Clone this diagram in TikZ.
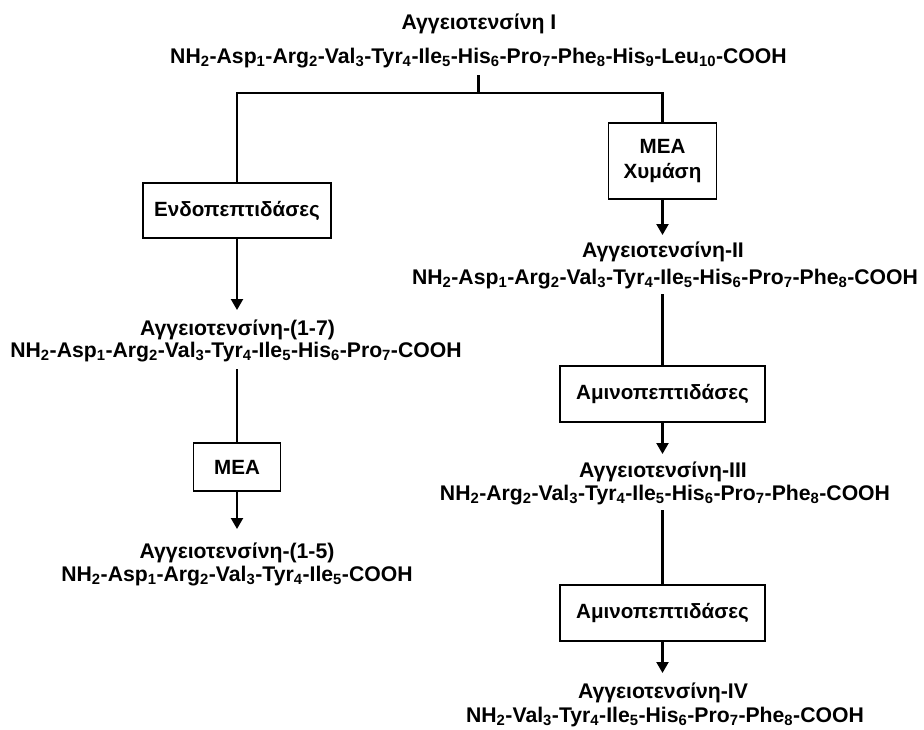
\documentclass[tikz,border=0pt]{standalone}
\usepackage{fontspec}
\setmainfont{Liberation Sans}
\usetikzlibrary{arrows.meta}
\newcommand{\sbx}[1]{\textsubscript{#1}}
\begin{document}
\begin{tikzpicture}[x=1pt,y=-1pt,
  lbl/.style={font=\fontsize{21.2}{25}\selectfont\bfseries, inner sep=0pt, anchor=base},
  enz/.style={draw, line width=1.7pt, font=\fontsize{20.6}{25}\selectfont\bfseries, align=center, inner sep=0pt},
  conn/.style={line width=2.2pt},
  arr/.style={conn,-{Triangle[length=11pt,width=12pt]}}]
\useasboundingbox (0,0) rectangle (924,729);
% top
\node[lbl] (tI) at (479,29) {Αγγειοτενσίνη I};
\node[lbl] (cI) at (478.5,63) {NH\sbx{2}-Asp\sbx{1}-Arg\sbx{2}-Val\sbx{3}-Tyr\sbx{4}-Ile\sbx{5}-His\sbx{6}-Pro\sbx{7}-Phe\sbx{8}-His\sbx{9}-Leu\sbx{10}-COOH};
\coordinate (split) at (478.5,93);
% left branch
\node[enz, minimum width=188pt, minimum height=55pt] (endo) at (237,210.5) {Ενδοπεπτιδάσες};
\node[lbl] (t17) at (237.5,335) {Αγγειοτενσίνη-(1-7)};
\node[lbl] (c17) at (236,357) {NH\sbx{2}-Asp\sbx{1}-Arg\sbx{2}-Val\sbx{3}-Tyr\sbx{4}-Ile\sbx{5}-His\sbx{6}-Pro\sbx{7}-COOH};
\node[enz, minimum width=87pt, minimum height=48pt] (meaL) at (237,467) {MEA};
\node[lbl] (t15) at (237,558) {Αγγειοτενσίνη-(1-5)};
\node[lbl] (c15) at (237,581) {NH\sbx{2}-Asp\sbx{1}-Arg\sbx{2}-Val\sbx{3}-Tyr\sbx{4}-Ile\sbx{5}-COOH};
% right branch
\node[enz, minimum width=108pt, minimum height=76pt] (meaR) at (662.5,161) {MEA\\Χυμάση};
\node[lbl] (tII) at (663,257) {Αγγειοτενσίνη-II};
\node[lbl] (cII) at (665,284) {NH\sbx{2}-Asp\sbx{1}-Arg\sbx{2}-Val\sbx{3}-Tyr\sbx{4}-Ile\sbx{5}-His\sbx{6}-Pro\sbx{7}-Phe\sbx{8}-COOH};
\node[enz, minimum width=205pt, minimum height=56pt] (amA) at (662.5,394) {Αμινοπεπτιδάσες};
\node[lbl] (tIII) at (663,477) {Αγγειοτενσίνη-III};
\node[lbl] (cIII) at (665,500) {NH\sbx{2}-Arg\sbx{2}-Val\sbx{3}-Tyr\sbx{4}-Ile\sbx{5}-His\sbx{6}-Pro\sbx{7}-Phe\sbx{8}-COOH};
\node[enz, minimum width=205pt, minimum height=56pt] (amB) at (662.5,613) {Αμινοπεπτιδάσες};
\node[lbl] (tIV) at (663,698) {Αγγειοτενσίνη-IV};
\node[lbl] (cIV) at (665,722) {NH\sbx{2}-Val\sbx{3}-Tyr\sbx{4}-Ile\sbx{5}-His\sbx{6}-Pro\sbx{7}-Phe\sbx{8}-COOH};
% connectors
\draw[conn] ([yshift=-12pt]cI.base -| split) -- (split);
\draw[conn] (endo.north) |- (split) -| (meaR.north);
\draw[arr] (endo.south) -- ([yshift=25pt]t17.base -| endo.south);
\draw[conn] ([yshift=-12pt]c17.base -| meaL.north) -- (meaL.north);
\draw[arr] (meaL.south) -- ([yshift=29pt]t15.base -| meaL.south);
\draw[arr] (meaR.south) -- ([yshift=22pt]tII.base -| meaR.south);
\draw[conn] ([yshift=-10pt]cII.base -| amA.north) -- (amA.north);
\draw[arr] (amA.south) -- ([yshift=23pt]tIII.base -| amA.south);
\draw[conn] ([yshift=-10pt]cIII.base -| amB.north) -- (amB.north);
\draw[arr] (amB.south) -- ([yshift=25pt]tIV.base -| amB.south);
\end{tikzpicture}
\end{document}
